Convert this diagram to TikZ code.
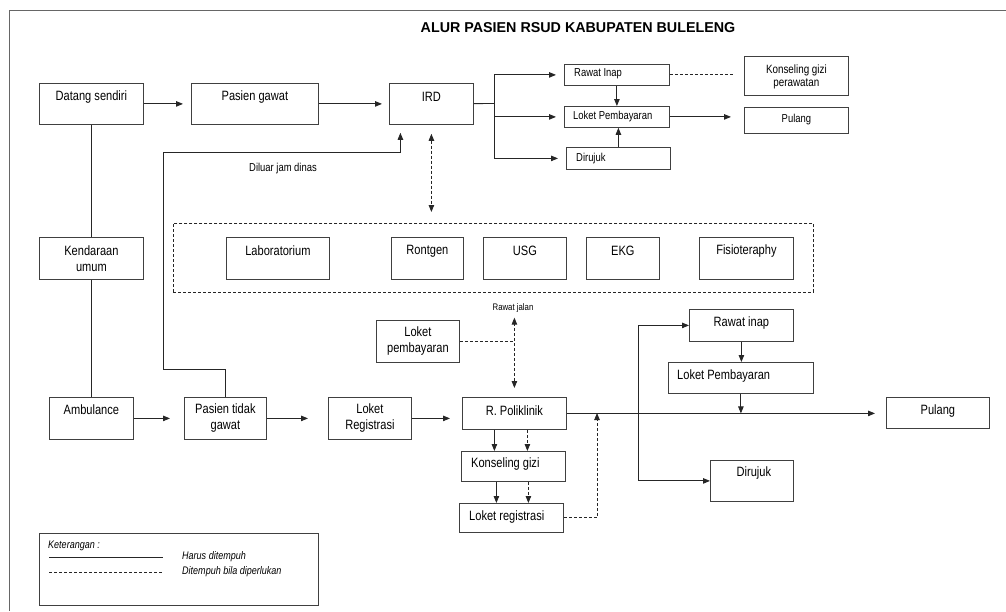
\documentclass[tikz,border=0pt]{standalone}
\usepackage{fontspec}
\setmainfont{Liberation Sans}[FakeStretch=0.82]
\newfontfamily\titlefont{Liberation Sans}
\usetikzlibrary{arrows.meta}
\tikzstyle{box}=[draw=black!75, line width=0.8pt, inner sep=0pt, anchor=north west]
\tikzstyle{txt}=[inner sep=0pt, align=center, font=\fontsize{13.5}{16}\selectfont]
\tikzstyle{txts}=[txt, font=\fontsize{11.5}{13}\selectfont]
\tikzstyle{link}=[draw=black!85, line width=0.85pt]
\tikzstyle{arr}=[link, -{Triangle[length=7pt,width=5.5pt]}]
\tikzstyle{optline}=[link, dash pattern=on 3pt off 2pt]
\tikzstyle{optarr}=[optline, -{Triangle[length=7pt,width=5.5pt]}]
\tikzstyle{both}=[{Triangle[length=7pt,width=5.5pt]}-{Triangle[length=7pt,width=5.5pt]}]

\begin{document}
\begin{tikzpicture}[x=1pt, y=-1pt]
\useasboundingbox (0,0) rectangle (1006,611);
\draw[black!60, line width=0.8pt] (1006,10) -- (9,10) -- (9,611);
\node[font=\titlefont\bfseries\fontsize{14.3}{16}\selectfont] (title) at (578,28) {ALUR PASIEN RSUD KABUPATEN BULELENG};

% jalur gawat darurat
\node[box, minimum width=104, minimum height=41] (datang) at (39,83) {};
\node[txt] at ([yshift=-14]datang.north) {Datang sendiri};
\node[box, minimum width=127, minimum height=41] (gawat) at (191,83) {};
\node[txt] at ([yshift=-14]gawat.north) {Pasien gawat};
\node[box, minimum width=84, minimum height=41] (ird) at (389,83) {};
\node[txt] at ([yshift=-14]ird.north) {IRD};

\node[box, minimum width=105, minimum height=21] (rinap1) at (564,64) {};
\node[txts, anchor=west] at ([xshift=10,yshift=-10]rinap1.north west) {Rawat Inap};
\node[box, minimum width=105, minimum height=21] (bayar1) at (564,106) {};
\node[txts, anchor=west] at ([xshift=9,yshift=-11]bayar1.north west) {Loket Pembayaran};
\node[box, minimum width=104, minimum height=22] (rujuk1) at (566,147) {};
\node[txts, anchor=west] at ([xshift=10,yshift=-12]rujuk1.north west) {Dirujuk};
\node[box, minimum width=104, minimum height=39] (kgp) at (744,56) {};
\node[txt, font=\fontsize{12}{13}\selectfont] at ([yshift=-20.5]kgp.north) {Konseling gizi\\perawatan};
\node[box, minimum width=104, minimum height=26] (pulang1) at (744,107) {};
\node[txts] at ([yshift=-13]pulang1.north) {Pulang};

\draw[arr, shorten >=8] (datang) -- (gawat);
\draw[arr, shorten >=7] (gawat) -- (ird);
\coordinate (irdfork) at (494,103.5);
\draw[link] (ird) -- (irdfork);
\foreach \n in {rinap1, bayar1, rujuk1}{
	\draw[arr, shorten >=8] (irdfork) |- (\n);
}
\draw[arr] (rinap1.south) -- (rinap1.south |- bayar1.north);
\draw[arr] (rujuk1.north) -- (rujuk1.north |- bayar1.south);
\draw[optline, shorten >=10] (rinap1) -- (rinap1 -| kgp.west);
\draw[arr, shorten >=13] (bayar1) -- (bayar1 -| pulang1.west);

% penunjang
\node[box, minimum width=104, minimum height=42] (kendaraan) at (39,237) {};
\node[txt] at ([yshift=-22]kendaraan.north) {Kendaraan\\umum};
\node[box, optline, minimum width=640, minimum height=69] (svc) at (173,223) {};
\foreach \x/\w/\n/\t in {226/103/lab/Laboratorium, 391/72/rontgen/Rontgen, 483/83/usg/USG, 586/73/ekg/EKG, 699/94/fisio/Fisioteraphy}{
	\node[box, minimum width=\w, minimum height=42] (\n) at (\x,237) {};
	\node[txt] at ([yshift=-14]\n.north) {\t};
}
\draw[optline, both, shorten <=9, shorten >=11] (ird) -- (ird |- svc.north);

\coordinate (bendlow) at (163,369);
\coordinate (bendup) at (163,152);
\node[font=\fontsize{11.5}{13}\selectfont] (diluar) at (283,169) {Diluar jam dinas};

% jalur rawat jalan
\node[box, minimum width=84, minimum height=42] (ambulance) at (49,397) {};
\node[txt] at ([yshift=-13]ambulance.north) {Ambulance};
\node[box, minimum width=82, minimum height=42] (tidak) at (184,397) {};
\node[txt] at ([yshift=-21]tidak.north) {Pasien tidak\\gawat};
\node[box, minimum width=83, minimum height=42] (regis) at (328,397) {};
\node[txt] at ([yshift=-21]regis.north) {Loket\\Registrasi};
\node[box, minimum width=104, minimum height=32] (poli) at (462,397) {};
\node[txt] at ([yshift=-14]poli.north) {R. Poliklinik};
\node[box, minimum width=104, minimum height=30] (konsel) at (461,451) {};
\node[txt, anchor=west] at ([xshift=10,yshift=-13]konsel.north west) {Konseling gizi};
\node[box, minimum width=104, minimum height=29] (regis2) at (459,503) {};
\node[txt, anchor=west] at ([xshift=10,yshift=-14]regis2.north west) {Loket registrasi};
\node[box, minimum width=83, minimum height=42] (bayar2) at (376,320) {};
\node[txt] at ([yshift=-21.5]bayar2.north) {Loket\\pembayaran};
\node[font=\fontsize{9.5}{11}\selectfont, inner sep=1pt] (rjalan) at (513,308) {Rawat jalan};

\node[box, minimum width=104, minimum height=32] (rinap2) at (689,309) {};
\node[txt] at ([yshift=-14]rinap2.north) {Rawat inap};
\node[box, minimum width=145, minimum height=31] (bayar3) at (668,362) {};
\node[txt, anchor=west] at ([xshift=9,yshift=-14]bayar3.north west) {Loket Pembayaran};
\node[box, minimum width=83, minimum height=41] (rujuk2) at (710,460) {};
\node[txt] at ([xshift=2,yshift=-13]rujuk2.north) {Dirujuk};
\node[box, minimum width=103, minimum height=31] (pulang2) at (886,397) {};
\node[txt] at ([yshift=-14]pulang2.north) {Pulang};

\draw[link] (datang.south) -- (datang.south |- kendaraan.north);
\draw[link] (kendaraan.south) -- (kendaraan.south |- ambulance.north);
\draw[arr, shorten >=8] (tidak) |- (bendlow) -- (bendup) -| ([xshift=-31]ird.south);
\draw[arr, shorten >=14] (ambulance) -- (tidak);
\draw[arr, shorten >=20] (tidak) -- (regis);
\draw[arr, shorten >=12] (regis) -- (regis -| poli.west);
\draw[optline] (bayar2) -- (bayar2 -| poli);
\draw[optline, both, shorten <=9, shorten >=4] (poli) -- (poli |- rjalan.south);
\draw[arr, shorten >=11] (poli) -- (poli -| pulang2.west);
\draw[arr] ([xshift=-20]poli.south) -- ([xshift=-20]poli.south |- konsel.north);
\draw[optarr] ([xshift=13]poli.south) -- ([xshift=13]poli.south |- konsel.north);
\draw[arr] ([xshift=-17]konsel.south) -- ([xshift=-17]konsel.south |- regis2.north);
\draw[optarr] ([xshift=15]konsel.south) -- ([xshift=15]konsel.south |- regis2.north);
\coordinate (rejoin) at (597,413);
\draw[optarr] (regis2) -| (rejoin);
\coordinate (fork) at (638,413);
\draw[arr] (fork) |- (rinap2);
\draw[arr] (fork) |- (rujuk2);
\draw[arr] (rinap2.south) -- (rinap2.south |- bayar3.north);
\draw[arr] (bayar3) -- (bayar3 |- poli);

% keterangan
\node[box, minimum width=279, minimum height=72] (legend) at (39,533) {};
\node[font=\itshape\fontsize{11}{12}\selectfont, anchor=west, inner sep=0pt] at ([xshift=9,yshift=-13]legend.north west) {Keterangan :};
\draw[link] ([xshift=10,yshift=-24]legend.north west) -- ++(114,0);
\draw[optline] ([xshift=10,yshift=-39]legend.north west) -- ++(114,0);
\node[font=\itshape\fontsize{11}{12}\selectfont, anchor=west, inner sep=0pt] at ([xshift=143,yshift=-24]legend.north west) {Harus ditempuh};
\node[font=\itshape\fontsize{11}{12}\selectfont, anchor=west, inner sep=0pt] at ([xshift=143,yshift=-39]legend.north west) {Ditempuh bila diperlukan};
\end{tikzpicture}
\end{document}
